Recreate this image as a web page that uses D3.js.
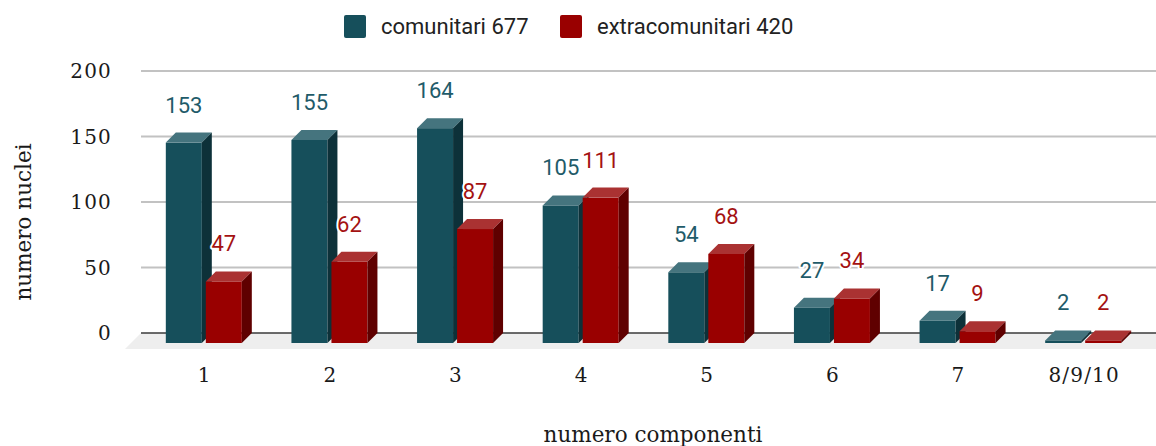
<!DOCTYPE html>
<html>
<head>
<meta charset="utf-8">
<script src="https://cdn.jsdelivr.net/npm/d3@7"></script>
<style>
  body { margin: 0; background: #fff; }
  svg { display: block; }
  .tick-label { font-family: "DejaVu Serif", serif; font-size: 20px; fill: #1a1a1a; letter-spacing: 1.2px; }
  .axis-title { font-family: "DejaVu Serif", serif; font-size: 21.5px; fill: #1a1a1a; }
  .value { font-family: Roboto, sans-serif; font-size: 22px; paint-order: stroke; stroke: #fff; stroke-width: 4px; stroke-linejoin: round; }
  .legend-text { font-family: Roboto, sans-serif; font-size: 22px; fill: #222; }
</style>
</head>
<body>
<svg id="chart" width="1156" height="446"></svg>
<script>
// data
var categories = ["1", "2", "3", "4", "5", "6", "7", "8/9/10"];
var comunitari = [153, 155, 164, 105, 54, 27, 17, 2];
var extracomunitari = [47, 62, 87, 111, 68, 34, 9, 2];
var seriesNames = ["comunitari", "extracomunitari"];
var yTicks = [0, 50, 100, 150, 200];

var colors = {
    comunitari: {front: "#164f5b", top: "#45747e", side: "#0d3139", label: "#1f5b69"},
    extracomunitari: {front: "#990000", top: "#aa3232", side: "#5f0000", label: "#a41212"}
};

var depth = 10;   // 3d offset of the back plane

var svg = d3.select("#chart");

var xScale = d3.scaleBand()
    .domain(categories)
    .range([141, 1146])
    .paddingInner(0.395)
    .paddingOuter(0.1975);

var xInner = d3.scaleBand()
    .domain(seriesNames)
    .range([0, xScale.bandwidth()])
    .paddingInner(0.1);

var yScale = d3.scaleLinear()
    .domain([0, 200])
    .range([333, 71]);

var rows = categories.map(function(c, i) {
    return {cat: c, comunitari: comunitari[i], extracomunitari: extracomunitari[i]};
});

var drawFloor = function() {
    var y0 = yScale(0);
    svg.append("path")
        .attr("d", "M141," + y0 + "L1156," + y0 + "L1156," + (y0 + 16) + "L125," + (y0 + 16) + "Z")
        .attr("fill", "#eeeeee");

    svg.selectAll(".grid")
        .data(yTicks.filter(function(d) { return d > 0; }))
        .enter()
        .append("line")
            .attr("class", "grid")
            .attr("x1", 141)
            .attr("x2", 1156)
            .attr("y1", d => yScale(d))
            .attr("y2", d => yScale(d))
            .attr("stroke", "#c2c2c2")
            .attr("stroke-width", 2);

    svg.append("line")
        .attr("x1", 141)
        .attr("x2", 1156)
        .attr("y1", y0)
        .attr("y2", y0)
        .attr("stroke", "#3a3a3a")
        .attr("stroke-width", 1.5);
}

var drawBars = function() {
    var w = xInner.bandwidth();
    var y0 = yScale(0);
    var groups = svg.selectAll(".group")
        .data(rows)
        .enter()
        .append("g")
            .attr("class", "group")
            .attr("transform", d => "translate(" + xScale(d.cat) + ",0)");

    seriesNames.forEach(function(s) {
        var bars = groups.append("g").attr("class", "bar " + s);

        bars.append("rect")
            .attr("x", xInner(s))
            .attr("y", d => yScale(d[s]) + depth)
            .attr("width", w)
            .attr("height", d => y0 - yScale(d[s]))
            .attr("fill", colors[s].front);

        bars.append("path")
            .attr("d", function(d) {
                var x = xInner(s), yt = yScale(d[s]);
                return "M" + x + "," + (yt + depth) + "L" + (x + depth) + "," + yt +
                    "L" + (x + w + depth) + "," + yt + "L" + (x + w) + "," + (yt + depth) + "Z";
            })
            .attr("fill", colors[s].top);

        bars.append("path")
            .attr("d", function(d) {
                var x = xInner(s) + w, yt = yScale(d[s]);
                return "M" + x + "," + (yt + depth) + "L" + (x + depth) + "," + yt +
                    "L" + (x + depth) + "," + y0 + "L" + x + "," + (y0 + depth) + "Z";
            })
            .attr("fill", colors[s].side);
    });

    seriesNames.forEach(function(s) {
        groups.append("text")
            .attr("class", "value")
            .attr("x", xInner(s) + w / 2)
            .attr("y", d => yScale(d[s]) - 20)
            .attr("text-anchor", "middle")
            .attr("fill", colors[s].label)
            .text(d => d[s]);
    });
}

var drawAxes = function() {
    svg.selectAll(".ytick")
        .data(yTicks)
        .enter()
        .append("text")
            .attr("class", "tick-label")
            .attr("x", 112)
            .attr("y", d => yScale(d) + 7)
            .attr("text-anchor", "end")
            .text(d => d);

    svg.selectAll(".xtick")
        .data(categories)
        .enter()
        .append("text")
            .attr("class", "tick-label")
            .attr("x", d => xScale(d) + xScale.bandwidth() / 2 + 1)
            .attr("y", 382)
            .attr("text-anchor", "middle")
            .text(d => d);

    svg.append("text")
        .attr("class", "axis-title")
        .attr("x", 653)
        .attr("y", 442)
        .attr("text-anchor", "middle")
        .text("numero componenti");

    svg.append("text")
        .attr("class", "axis-title")
        .attr("transform", "translate(31,222) rotate(-90)")
        .attr("text-anchor", "middle")
        .text("numero nuclei");
}

var drawLegend = function() {
    var items = [
        {name: "comunitari", total: d3.sum(comunitari), x: 344},
        {name: "extracomunitari", total: d3.sum(extracomunitari), x: 560}
    ];
    var leg = svg.selectAll(".legend")
        .data(items)
        .enter()
        .append("g")
            .attr("class", "legend");
    leg.append("rect")
        .attr("x", d => d.x)
        .attr("y", 15)
        .attr("width", 22)
        .attr("height", 23)
        .attr("rx", 2)
        .attr("fill", d => colors[d.name].front);
    leg.append("text")
        .attr("class", "legend-text")
        .attr("x", d => d.x + 37)
        .attr("y", 34)
        .text(d => d.name + " " + d.total);
}

drawFloor();
drawBars();
drawAxes();
drawLegend();
</script>
</body>
</html>
